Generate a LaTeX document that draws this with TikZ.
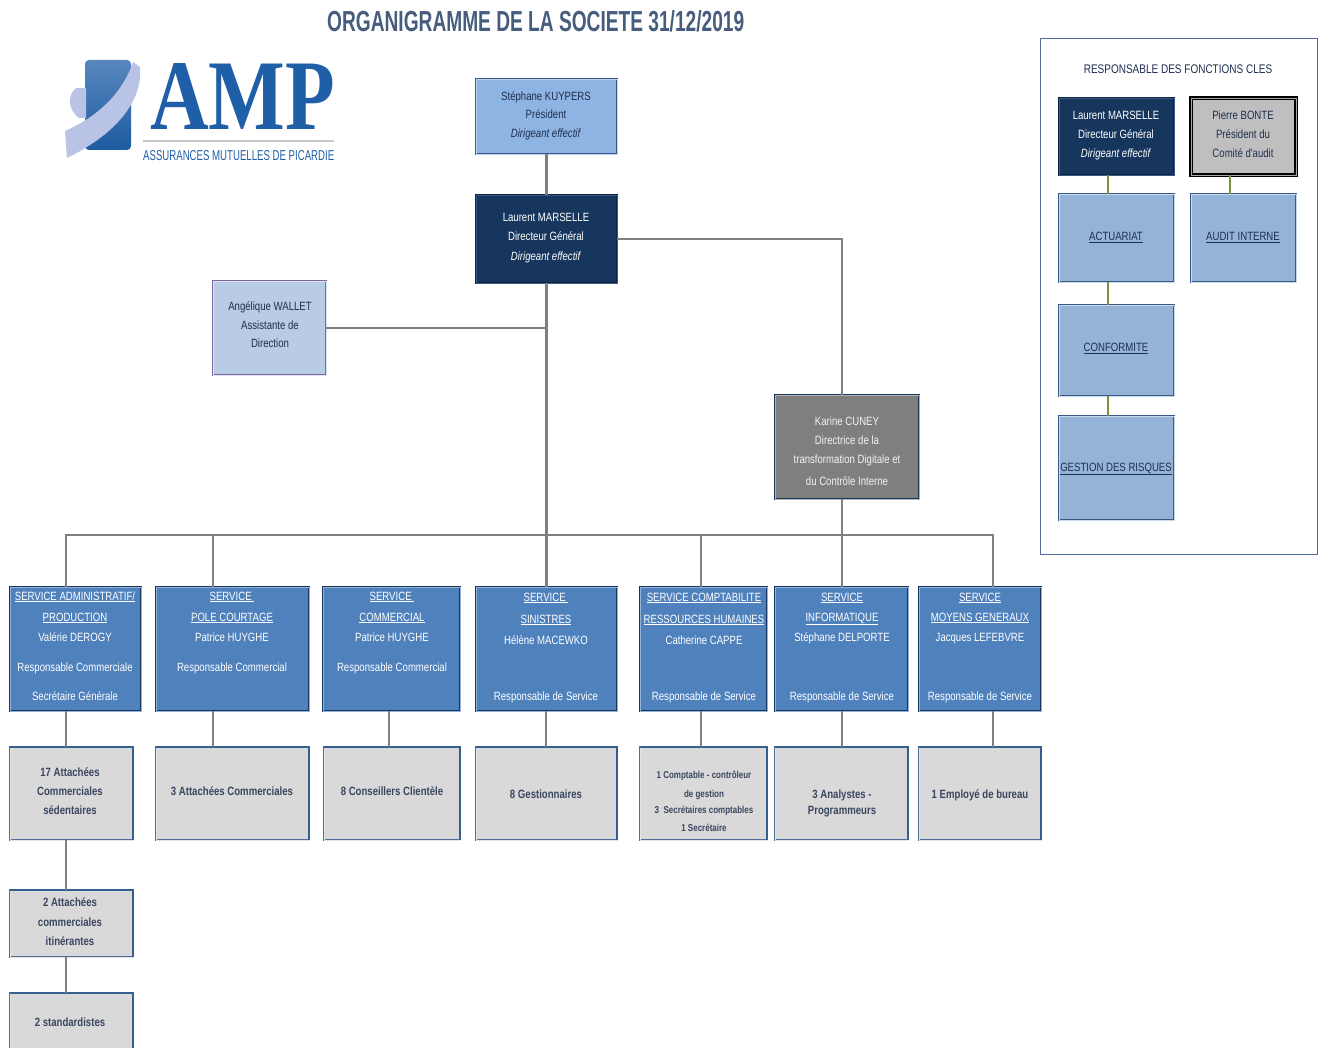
\documentclass[tikz,border=0pt]{standalone}
\usepackage{fontspec}
\usepackage{graphicx}
\setmainfont{Liberation Sans}
\newfontfamily\nar[FakeStretch=0.8]{Liberation Sans}
\newfontfamily\ampserif{Liberation Serif}
\definecolor{navy}{HTML}{17365D}
\definecolor{navyd}{HTML}{0E2440}
\definecolor{navyl}{HTML}{3A5A85}
\definecolor{lightb}{HTML}{8DB4E2}
\definecolor{legb}{HTML}{95B3D7}
\definecolor{svcb}{HTML}{4F81BD}
\definecolor{angb}{HTML}{B8CCE4}
\definecolor{angp}{HTML}{8064A2}
\definecolor{kgray}{HTML}{7F7F7F}
\definecolor{botf}{HTML}{D9D9D9}
\definecolor{botl}{HTML}{4F6D9A}
\definecolor{bott}{HTML}{365F91}
\definecolor{connc}{HTML}{808080}
\definecolor{greenc}{HTML}{77933C}
\definecolor{titlec}{HTML}{475D7D}
\definecolor{darkt}{HTML}{1F2F4F}
\definecolor{boldt}{HTML}{3A4660}
\definecolor{ampblue}{HTML}{1F5FA8}
\definecolor{ribbon}{HTML}{B9C3E6}
\newcommand\bx[6]{\node[#1, minimum width={(#5-#3)*1pt}, minimum height={(#6-#4)*1pt}] (#2) at (#3,#4) {};}
\newcommand\boxlines[4]{\foreach \yy/\txt [count=\i] in {#4} {\node[#1] (#2-\i) at (#3,\yy) {\txt};}}
\tikzset{
  boxbase/.style={rectangle, inner sep=0pt, outer sep=0pt, anchor=north west},
  lightbox/.style={boxbase, fill=lightb, draw=navyl, double=lightb!60, double distance=0.8pt, line width=0.8pt},
  navybox/.style={boxbase, fill=navy, draw=navyd, double=navyl, double distance=0.8pt, line width=0.8pt},
  angbox/.style={boxbase, fill=angb, draw=angp, double=angb!50, double distance=0.8pt, line width=0.9pt},
  kbox/.style={boxbase, fill=kgray, draw=navy, double=kgray!60, double distance=0.6pt, line width=1pt},
  svcbox/.style={boxbase, fill=svcb, draw=navy, double=svcb!60, double distance=0.8pt, line width=1pt},
  botbox/.style={boxbase, fill=botf, draw=botl, double=botf!70, double distance=0.8pt, line width=0.7pt},
  legbox/.style={boxbase, fill=legb, draw=navyl, double=legb!50, double distance=0.8pt, line width=0.8pt},
  pbox/.style={boxbase, fill=black!25, draw=black, double=black!35, double distance=0.6pt, line width=1.3pt},
  panel/.style={boxbase, fill=white, draw=botl, line width=0.8pt},
  txtbase/.style={inner sep=0pt, text height=8.5pt, text depth=2.5pt, font=\nar\fontsize{12}{14}\selectfont},
  txtw/.style={txtbase, text=white},
  txtk/.style={txtbase, text=black!5},
  txtd/.style={txtbase, text=darkt},
  txtb/.style={txtbase, text=boldt, font=\nar\bfseries\fontsize{12}{14}\selectfont},
  txts/.style={txtbase, text=boldt, text height=7pt, text depth=2pt, font=\nar\bfseries\fontsize{10}{12}\selectfont},
  txtl/.style={txtbase, text=darkt, font=\nar\fontsize{12.5}{14}\selectfont},
  conn/.style={draw=connc, line width=2.2pt},
  gconn/.style={draw=greenc, line width=2.6pt},
}
\begin{document}
\begin{tikzpicture}[x=1pt,y=-1pt]
\clip (0,0) rectangle (1320,1048);
\fill[white] (0,0) rectangle (1320,1048);

% title
\node[inner sep=0pt, anchor=south west, text=titlec] (title) at (327,32) {\resizebox{417pt}{21pt}{\bfseries ORGANIGRAMME DE LA SOCIETE 31/12/2019}};

% logo
\shade[top color=ampblue!75, bottom color=ampblue!95!black, rounded corners=4pt] (85,60) rectangle (131,150);
\fill[ribbon] (76,88) .. controls (67,95) and (68,110) .. (79,118) -- (86,118) -- (86,88) -- cycle;
\fill[ribbon] (65,131) .. controls (95,118) and (122,95) .. (133,62) -- (140,67) .. controls (143,98) and (120,132) .. (67,158) -- cycle;
\node[inner sep=0pt, anchor=south west, text=ampblue] (amp) at (150,130) {\resizebox{185pt}{66pt}{\ampserif\bfseries AMP}};
\draw[black!22, line width=1.2pt] (143,141) -- (334,141);
\node[inner sep=0pt, anchor=south west, text=ampblue] (ampsub) at (143,161) {\resizebox{191pt}{10pt}{\nar ASSURANCES MUTUELLES DE PICARDIE}};

% coordinates for connectors
\coordinate (bus) at (0,535);
\coordinate (c1) at (66,0);
\coordinate (c2) at (213,0);
\coordinate (c3) at (389,0);
\coordinate (c4) at (546,0);
\coordinate (c5) at (701,0);
\coordinate (c6) at (842,0);
\coordinate (c7) at (993,0);
\coordinate (g1) at (1108,0);
\coordinate (g2) at (1230,0);

% top boxes
\bx{lightbox}{steph}{476}{79}{617}{154}
\bx{navybox}{laur}{476}{195}{617}{283}
\bx{angbox}{ang}{213}{281}{326}{375}
\bx{kbox}{kar}{775}{395}{919}{499}

% services
\bx{svcbox}{adm}{10}{587}{141}{711}
\bx{svcbox}{pol}{156}{587}{309}{711}
\bx{svcbox}{com}{323}{587}{460}{711}
\bx{svcbox}{sin}{476}{587}{617}{711}
\bx{svcbox}{cpt}{640}{587}{767}{711}
\bx{svcbox}{inf}{775}{587}{908}{711}
\bx{svcbox}{moy}{919}{587}{1041}{711}

% bottom boxes
\bx{botbox}{b1}{10}{747}{133}{840}
\bx{botbox}{b2}{156}{747}{309}{840}
\bx{botbox}{b3}{324}{747}{460}{840}
\bx{botbox}{b4}{476}{747}{617}{840}
\bx{botbox}{b5}{640}{747}{767}{840}
\bx{botbox}{b6}{775}{747}{908}{840}
\bx{botbox}{b7}{919}{747}{1041}{840}
\bx{botbox}{b8}{10}{890}{133}{957}
\bx{botbox}{b9}{10}{993}{133}{1070}
\foreach \n in {b1,b2,b3,b4,b5,b6,b7,b8,b9}
  \draw[bott, line width=2.4pt] (\n.north west) -- (\n.north east) -- (\n.south east);

% legend panel
\bx{panel}{leg}{1040}{38}{1317}{554}
\bx{navybox}{l1}{1059}{98}{1174}{175}
\bx{pbox}{l2}{1191}{98}{1296}{175}
\bx{legbox}{l3}{1059}{194}{1174}{282}
\bx{legbox}{l4}{1191}{194}{1296}{282}
\bx{legbox}{l5}{1059}{305}{1174}{396}
\bx{legbox}{l6}{1059}{416}{1174}{520}

% connectors
\draw[conn] (steph.south) -- (laur.north);
\draw[conn] (laur.south) -- (sin.north);
\draw[conn] (ang.east) -- (ang.east -| laur.south);
\draw[conn] (laur.east) -| (kar.north -| c6);
\draw[conn] (kar.south -| c6) -- (inf.north -| c6);
\draw[conn] (adm.north -| c1) -- (bus -| c1) -- (bus -| c7) -- (moy.north -| c7);
\draw[conn] (pol.north -| c2) -- (bus -| c2);
\draw[conn] (cpt.north -| c5) -- (bus -| c5);
\draw[conn] (adm.south -| c1) -- (b1.north -| c1);
\draw[conn] (pol.south -| c2) -- (b2.north -| c2);
\draw[conn] (com.south -| c3) -- (b3.north -| c3);
\draw[conn] (sin.south -| c4) -- (b4.north -| c4);
\draw[conn] (cpt.south -| c5) -- (b5.north -| c5);
\draw[conn] (inf.south -| c6) -- (b6.north -| c6);
\draw[conn] (moy.south -| c7) -- (b7.north -| c7);
\draw[conn] (b1.south -| c1) -- (b8.north -| c1);
\draw[conn] (b8.south -| c1) -- (b9.north -| c1);
\draw[gconn] (l1.south -| g1) -- (l3.north -| g1);
\draw[gconn] (l3.south -| g1) -- (l5.north -| g1);
\draw[gconn] (l5.south -| g1) -- (l6.north -| g1);
\draw[gconn] (l2.south -| g2) -- (l4.north -| g2);

% texts
\boxlines{txtd}{stepht}{546}{98/{Stéphane KUYPERS},116/{Président},135/{\textit{Dirigeant effectif}}}
\boxlines{txtw}{laurt}{546}{219/{Laurent MARSELLE},238/{Directeur Général},258/{\textit{Dirigeant effectif}}}
\boxlines{txtd}{angt}{270}{308/{Angélique WALLET},327/{Assistante de},345/{Direction}}
\boxlines{txtk}{kart}{847}{422/{Karine CUNEY},441/{Directrice de la},461/{transformation Digitale et},482/{du Contrôle Interne}}

\boxlines{txtw}{admt}{75}{597/{\underline{SERVICE ADMINISTRATIF/}},618/{\underline{PRODUCTION}},638/{Valérie DEROGY},668/{Responsable Commerciale},697/{Secrétaire Générale}}
\boxlines{txtw}{polt}{232}{597/{\underline{SERVICE }},618/{\underline{POLE COURTAGE}},638/{Patrice HUYGHE},668/{Responsable Commercial}}
\boxlines{txtw}{comt}{392}{597/{\underline{SERVICE }},618/{\underline{COMMERCIAL}},638/{Patrice HUYGHE},668/{Responsable Commercial}}
\boxlines{txtw}{sint}{546}{598/{\underline{SERVICE }},620/{\underline{SINISTRES}},641/{Hélène MACEWKO},697/{Responsable de Service}}
\boxlines{txtw}{cptt}{704}{598/{\underline{SERVICE COMPTABILITE}},620/{\underline{RESSOURCES HUMAINES}},641/{Catherine CAPPE},697/{Responsable de Service}}
\boxlines{txtw}{inft}{842}{598/{\underline{SERVICE}},618/{\underline{INFORMATIQUE}},638/{Stéphane DELPORTE},697/{Responsable de Service}}
\boxlines{txtw}{moyt}{980}{598/{\underline{SERVICE}},618/{\underline{MOYENS GENERAUX}},638/{Jacques LEFEBVRE},697/{Responsable de Service}}

\boxlines{txtb}{b1t}{70}{773/{17 Attachées},792/{Commerciales},811/{sédentaires}}
\boxlines{txtb}{b2t}{232}{792/{3 Attachées Commerciales}}
\boxlines{txtb}{b3t}{392}{792/{8 Conseillers Clientèle}}
\boxlines{txtb}{b4t}{546}{795/{8 Gestionnaires}}
\boxlines{txts}{b5t}{704}{776/{1 Comptable - contrôleur},795/{de gestion},811/{3~~Secrétaires comptables},829/{1 Secrétaire}}
\boxlines{txtb}{b6t}{842}{795/{3 Analystes -},811/{Programmeurs}}
\boxlines{txtb}{b7t}{980}{795/{1 Employé de bureau}}
\boxlines{txtb}{b8t}{70}{903/{2 Attachées},923/{commerciales},942/{itinérantes}}
\boxlines{txtb}{b9t}{70}{1023/{2 standardistes}}

\boxlines{txtl}{legt}{1178}{71/{RESPONSABLE DES FONCTIONS CLES}}
\boxlines{txtw}{l1t}{1116}{117/{Laurent MARSELLE},136/{Directeur Général},155/{\textit{Dirigeant effectif}}}
\boxlines{txtd}{l2t}{1243}{117/{Pierre BONTE},136/{Président du},155/{Comité d'audit}}
\boxlines{txtd}{l3t}{1116}{238/{\underline{ACTUARIAT}}}
\boxlines{txtd}{l4t}{1243}{238/{\underline{AUDIT INTERNE}}}
\boxlines{txtd}{l5t}{1116}{349/{\underline{CONFORMITE}}}
\boxlines{txtd}{l6t}{1116}{468/{\underline{GESTION DES RISQUES}}}
\end{tikzpicture}
\end{document}
